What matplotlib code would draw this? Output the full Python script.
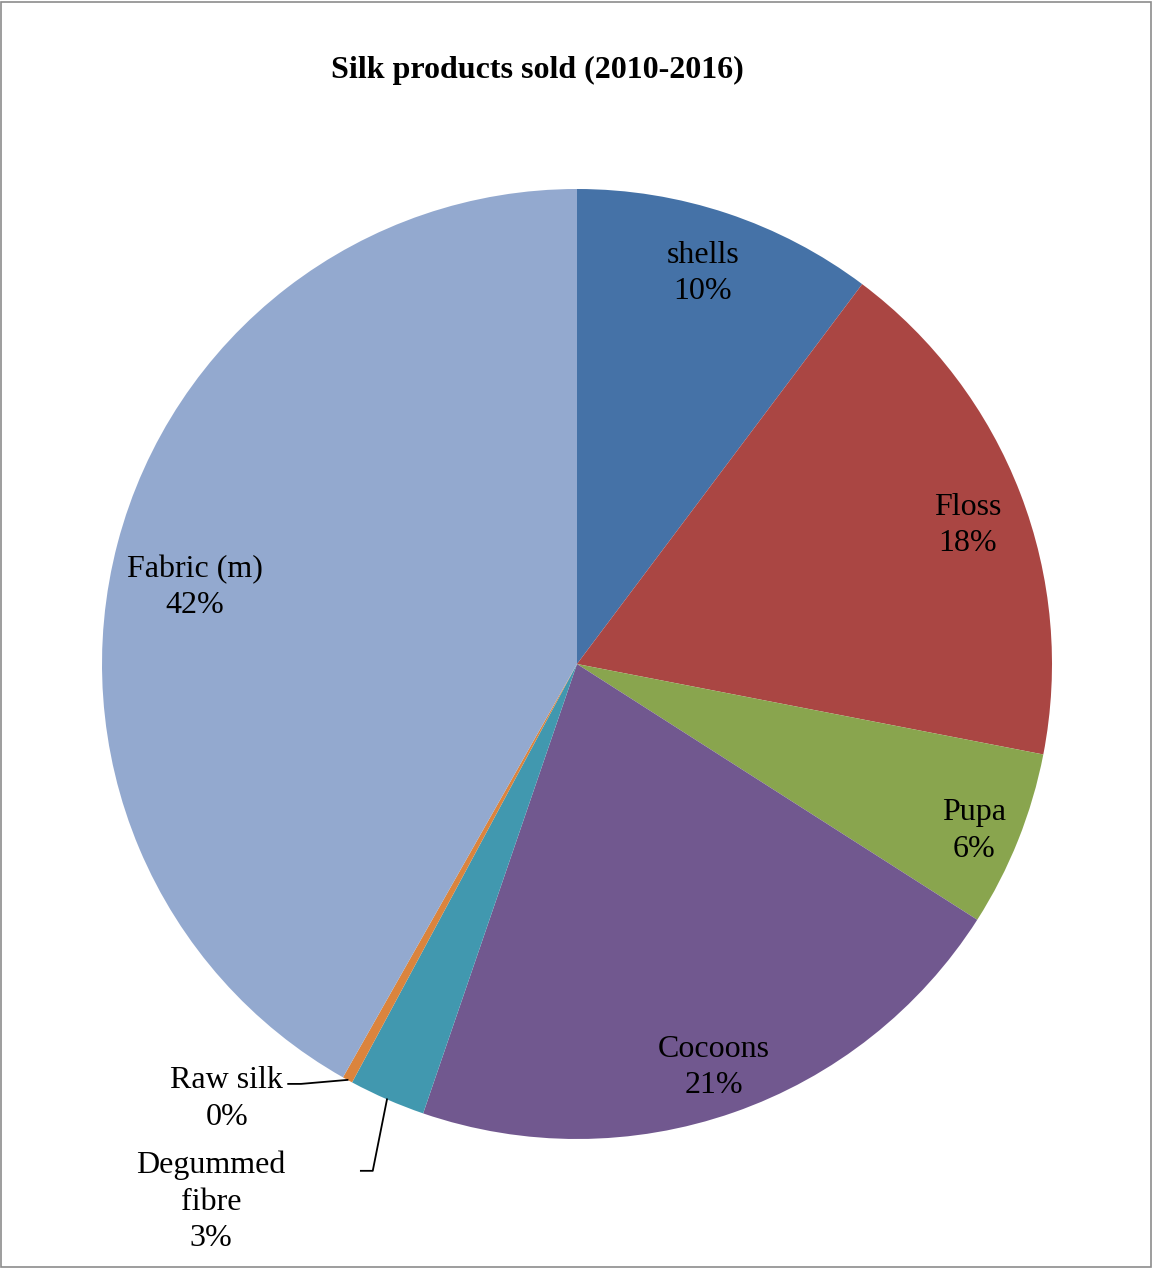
import matplotlib
matplotlib.use("Agg")
import matplotlib.pyplot as plt
import numpy as np
from matplotlib.patches import Rectangle

# Share of silk products sold, 2010-2016 (percent)
categories = ["shells", "Floss", "Pupa", "Cocoons", "Degummed\nfibre", "Raw silk", "Fabric (m)"]
shares = [10.25, 17.8, 6.0, 21.2, 2.6, 0.35, 41.8]
colors = ["#4572A7", "#AA4643", "#89A54E", "#71588F", "#4198AF", "#DB843D", "#93A9CF"]

# Label anchor points in pie units (centre = 0,0, radius = 1)
label_pos = {
    "shells": (0.265, 0.822),
    "Floss": (0.823, 0.292),
    "Pupa": (0.836, -0.352),
    "Cocoons": (0.288, -0.849),
    "Degummed\nfibre": (-0.771, -1.133),
    "Raw silk": (-0.737, -0.916),
    "Fabric (m)": (-0.804, 0.161),
}
# Leader-line elbows for the thin outside labels
leader = {
    "Raw silk": [(-0.608, -0.884), (-0.581, -0.884)],
    "Degummed\nfibre": [(-0.455, -1.067), (-0.430, -1.067)],
}

W, H = 1152, 1268
fig = plt.figure(figsize=(W / 100, H / 100), dpi=100)
fig.patch.set_facecolor("white")
fig.add_artist(Rectangle((0.5 / W, 1.5 / H), (W - 2) / W, (H - 3) / H,
                         transform=fig.transFigure, fill=False,
                         edgecolor="#8c8c8c", linewidth=1.2))

cx, cy, r = 577, 664, 475
ax = fig.add_axes([(cx - r) / W, (H - cy - r) / H, 2 * r / W, 2 * r / H])
wedges, _ = ax.pie(shares, colors=colors, startangle=90, counterclock=False,
                   radius=1, wedgeprops=dict(linewidth=0))
ax.set_xlim(-1, 1)
ax.set_ylim(-1, 1)
ax.set_aspect("equal")
ax.axis("off")

total = sum(shares)
font = dict(family="Liberation Serif", size=23, color="black")
for w, name, val in zip(wedges, categories, shares):
    x, y = label_pos[name]
    ax.text(x, y, f"{name}\n{round(val / total * 100):.0f}%", ha="center", va="center",
            linespacing=1.34, clip_on=False, **font)
    if name in leader:
        mid = np.deg2rad((w.theta1 + w.theta2) / 2)
        pts = leader[name] + [(np.cos(mid), np.sin(mid))]
        xs, ys = zip(*pts)
        ax.plot(xs, ys, color="black", linewidth=1.3, clip_on=False)

fig.text(537 / W, 1 - 70 / H, "Silk products sold (2010-2016)", ha="center", va="center",
         family="Liberation Serif", size=23, weight="bold")

fig.savefig("out.png", dpi=100, facecolor="white")
